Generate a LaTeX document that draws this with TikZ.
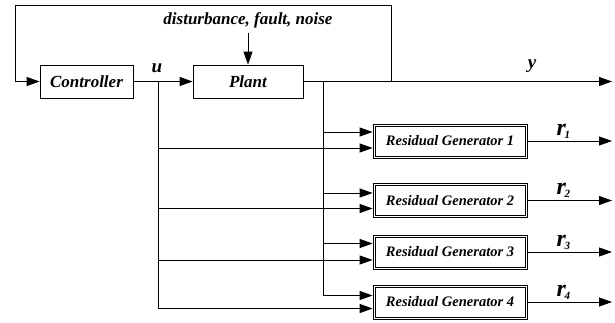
\documentclass[tikz,border=0pt]{standalone}
\usepackage{fontspec}
\setmainfont{Liberation Serif}
\usetikzlibrary{arrows.meta}
\begin{document}
\begin{tikzpicture}[x=1pt,y=-1pt,
  line width=0.8pt,
  bi/.style={font=\bfseries\itshape\fontsize{#1}{#1}\selectfont},
  blk/.style={draw, line width=0.8pt, minimum height=33pt, inner sep=0pt, bi=17},
  rgbox/.style={draw, line width=0.8pt, minimum width=154pt, minimum height=34pt, inner sep=0pt, bi=14.5},
  arr/.style={-{Triangle[length=13pt,width=9pt]}},
  lbl/.style={bi=24}]
\useasboundingbox (0,0) rectangle (615,322);

% main loop blocks
\node[blk, minimum width=93pt] (ctrl) at (86.5,81.5) {Controller};
\node[blk, minimum width=110pt] (plant) at (248,81.5) {Plant};
\node[bi=17] (dist) at (248,20) {disturbance, fault, noise};
\coordinate (distfoot) at (248,33);

% residual generators (double-framed)
\node[rgbox] (rg1) at (450,141) {Residual Generator 1};
\node[rgbox] (rg2) at (450,200.5) {Residual Generator 2};
\node[rgbox] (rg3) at (450,252) {Residual Generator 3};
\node[rgbox] (rg4) at (450,302) {Residual Generator 4};
\foreach \i in {1,...,4}{
  \draw[line width=0.6pt] ([xshift=2.2pt,yshift=-2.2pt]rg\i.north west) rectangle ([xshift=-2.2pt,yshift=2.2pt]rg\i.south east);
}

% junctions and line ends
\coordinate (uj) at (158,81.5);
\coordinate (yj) at (323,81.5);
\coordinate (fb) at (391,81.5);
\coordinate (yend) at (612,81.5);
\coordinate (fbtop) at (391,5);
\coordinate (fbleft) at (15,5);
\coordinate (fbcorner) at (15,81.5);

% feedback and forward path
\draw[arr] (fb) -- (fbtop) -- (fbleft) -- (fbcorner) -- (ctrl.west);
\draw[arr] (ctrl.east) -- (plant.west);
\draw[arr] (distfoot) -- (plant.north);
\draw[arr] (plant.east) -- (yend);
\node[bi=19] at (157,68) {u};
\node[bi=19] at (532,66) {y};

% distribution of y and u to the residual generators
\draw (yj) -- (323,295.5);
\draw (uj) -- (158,308.5);
\foreach \i/\ya/\yb in {1/132/148, 2/193/208.5, 3/243.5/260, 4/295.5/308.5}{
  \draw[arr] (323,\ya) -- (rg\i.west |- 0,\ya);
  \draw[arr] (158,\yb) -- (rg\i.west |- 0,\yb);
  \draw[arr] (rg\i.east) -- (612,0 |- rg\i.east);
  \node[lbl, anchor=base west] at (553,0 |- rg\i.center) [yshift=6pt] {r\kern-1.5pt\raisebox{-3pt}{\fontsize{11}{11}\selectfont\i}};
}
\end{tikzpicture}
\end{document}
